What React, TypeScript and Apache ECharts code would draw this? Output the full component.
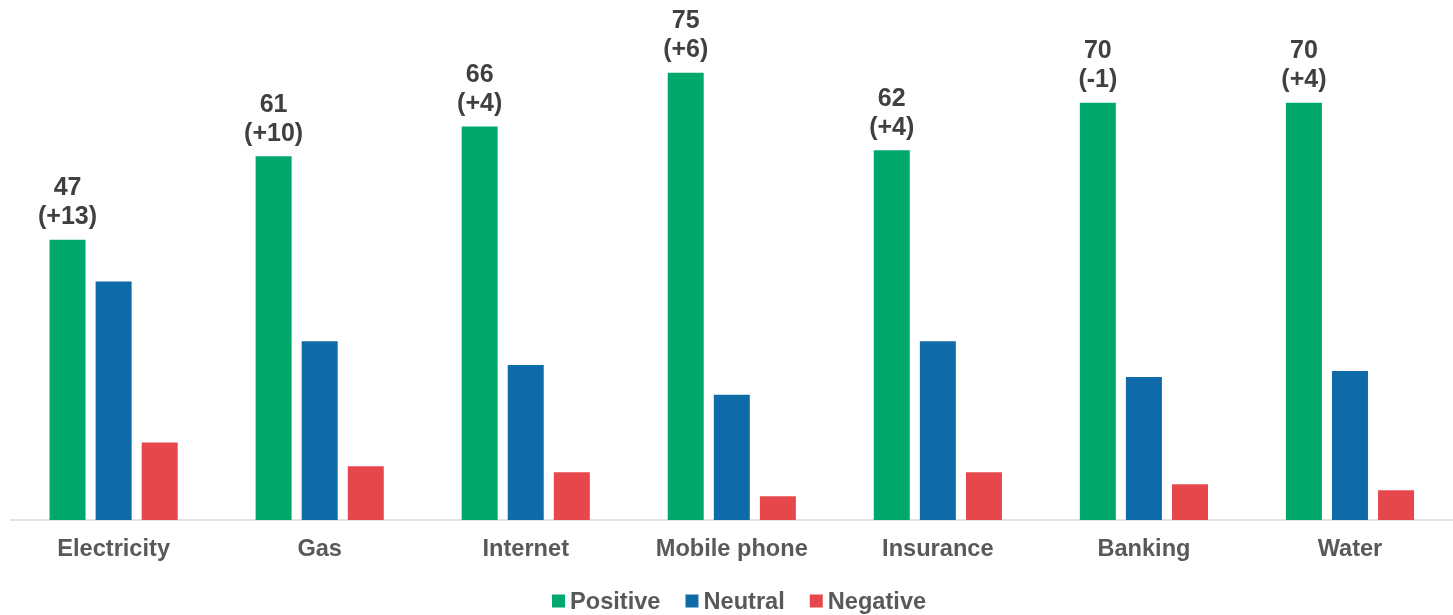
import React, { useEffect, useRef } from "react";
import * as echarts from "echarts";

const categories = ["Electricity", "Gas", "Internet", "Mobile phone", "Insurance", "Banking", "Water"];
const positive = [47, 61, 66, 75, 62, 70, 70];
const positiveChange = ["+13", "+10", "+4", "+6", "+4", "-1", "+4"];
const neutral = [40, 30, 26, 21, 30, 24, 25];
const negative = [13, 9, 8, 4, 8, 6, 5];

const FONT = "Arial, 'Liberation Sans', sans-serif";

export default function App() {
  const ref = useRef<HTMLDivElement>(null);
  useEffect(() => {
    if (!ref.current) return;
    const chart = echarts.init(ref.current, undefined, { renderer: "svg" });
    chart.setOption({
      animation: false,
      textStyle: { fontFamily: FONT },
      grid: { left: 10.6, width: 1447, top: 43, bottom: 95, containLabel: false },
      legend: {
        bottom: -3,
        left: 547,
        itemWidth: 13,
        itemHeight: 13,
        itemGap: 25,
        icon: "rect",
        textStyle: { fontSize: 23.6, fontWeight: "bold", color: "#595959", fontFamily: FONT },
        data: ["Positive", "Neutral", "Negative"],
      },
      xAxis: {
        type: "category",
        data: categories,
        axisLine: { lineStyle: { color: "#D9D9D9", width: 1.5 } },
        axisTick: { show: false },
        axisLabel: { fontSize: 23.6, fontWeight: "bold", color: "#595959", margin: 16, fontFamily: FONT },
      },
      yAxis: {
        type: "value",
        min: 0,
        max: 80,
        show: false,
        splitLine: { show: false },
      },
      series: [
        {
          name: "Positive",
          type: "bar",
          data: positive,
          barWidth: 36,
          barGap: "28%",
          itemStyle: { color: "#00A86B" },
          label: {
            show: true,
            position: "top",
            distance: 10,
            color: "#404040",
            fontSize: 25,
            fontWeight: "bold",
            lineHeight: 29,
            fontFamily: FONT,
            formatter: (p: any) => `${positive[p.dataIndex]}\n(${positiveChange[p.dataIndex]})`,
          },
        },
        {
          name: "Neutral",
          type: "bar",
          data: neutral,
          barWidth: 36,
          barGap: "28%",
          itemStyle: { color: "#0F6BA8" },
        },
        {
          name: "Negative",
          type: "bar",
          data: negative,
          barWidth: 36,
          barGap: "28%",
          itemStyle: { color: "#E5474B" },
        },
      ],
    });
    return () => chart.dispose();
  }, []);
  return (
    <div
      ref={ref}
      style={{ position: "fixed", left: 0, top: 0, width: 1453, height: 615 }}
    />
  );
}
